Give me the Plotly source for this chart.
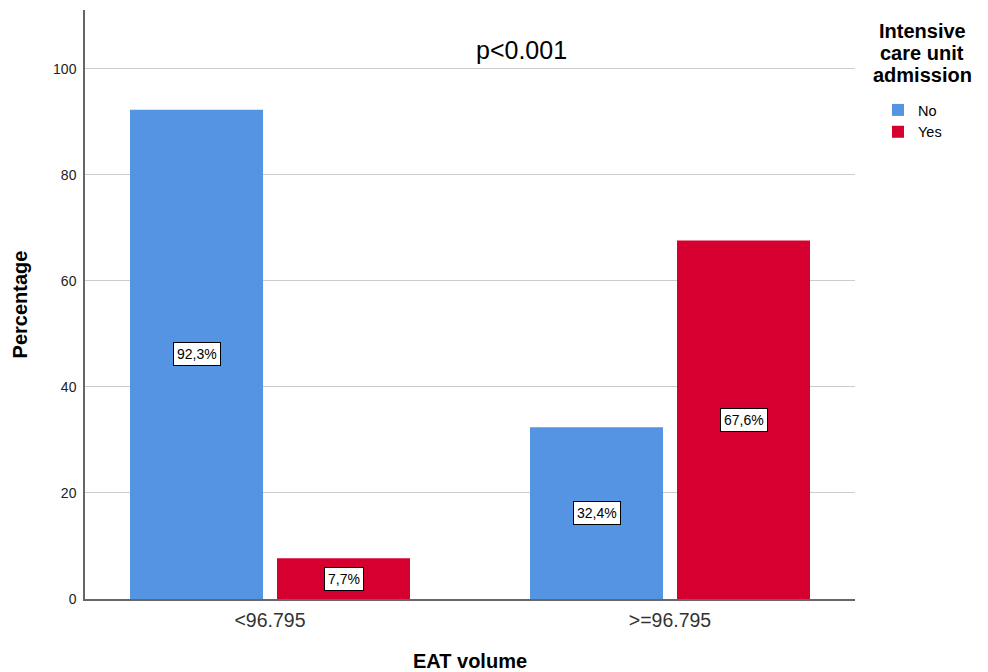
import plotly.graph_objects as go

categories = ["<96.795", ">=96.795"]
series_names = ["No", "Yes"]
no_values = [92.3, 32.4]
yes_values = [7.7, 67.6]
label_no = ["92,3%", "32,4%"]
label_yes = ["7,7%", "67,6%"]
y_ticks = [0, 20, 40, 60, 80, 100]
legend_title_lines = ["Intensive", "care unit", "admission"]
p_text = "p<0.001"

BLUE = "#5594E2"
RED = "#D5002F"
FONT = "Arial, Liberation Sans, sans-serif"

# page body has an 8px margin; offsets below compensate
W, H = 988, 672
ML, MT, MR, MB = 77, 2, 141, 81
PW = W - ML - MR   # 770
PH = H - MT - MB   # 589


def px_x(sx):
    return (sx - 8 - ML) / PW


def px_y(sy):
    return (H - MB - (sy - 8)) / PH


xpos = list(range(len(categories)))
fig = go.Figure()
fig.add_trace(go.Bar(x=xpos, y=no_values, name=series_names[0],
                     marker=dict(color=BLUE, line=dict(width=0))))
fig.add_trace(go.Bar(x=xpos, y=yes_values, name=series_names[1],
                     marker=dict(color=RED, line=dict(width=0))))

bargap = 0.265
bargroupgap = 0.0952
offset = (1 - bargap) / 4
for i, xv in enumerate(xpos):
    for vals, labs, d in ((no_values, label_no, -offset), (yes_values, label_yes, offset)):
        fig.add_annotation(x=xv + d, y=vals[i] / 2, text=labs[i], showarrow=False,
                           font=dict(family=FONT, size=14, color="black"),
                           bgcolor="white", bordercolor="black", borderwidth=1, borderpad=3)

fig.add_annotation(x=px_x(521), y=px_y(50), xref="paper", yref="paper",
                   text=p_text, showarrow=False, xanchor="center", yanchor="middle",
                   font=dict(family=FONT, size=25, color="black"))

for k, line in enumerate(legend_title_lines):
    fig.add_annotation(x=px_x(922), y=px_y(31 + 22 * k), xref="paper", yref="paper",
                       text="<b>" + line + "</b>", showarrow=False,
                       xanchor="center", yanchor="middle",
                       font=dict(family=FONT, size=20, color="black"))

fig.update_layout(
    width=W, height=H,
    margin=dict(l=ML, r=MR, t=MT, b=MB, autoexpand=False),
    plot_bgcolor="white", paper_bgcolor="white",
    barmode="group", bargap=bargap, bargroupgap=bargroupgap,
    font=dict(family=FONT, color="black"),
    showlegend=True,
    legend=dict(
        x=px_x(878), y=px_y(94), xanchor="left", yanchor="top",
        font=dict(size=14.5, family=FONT),
        itemsizing="constant", tracegroupgap=0, itemwidth=30,
        bgcolor="rgba(0,0,0,0)",
    ),
    xaxis=dict(
        range=[-0.4625, 1.4625], tickvals=xpos, ticktext=categories,
        showline=True, linecolor="#666666", linewidth=1.5, ticks="",
        tickfont=dict(size=19.5, color="#333333"),
        ticklabelstandoff=3,
        title=dict(text="<b>EAT volume</b>", font=dict(size=20), standoff=24),
        showgrid=False, zeroline=False,
    ),
    yaxis=dict(
        range=[0, 111.1], tickvals=y_ticks,
        showline=True, linecolor="#666666", linewidth=1.5, ticks="",
        tickfont=dict(size=14, color="#222222"),
        ticklabelstandoff=4,
        showgrid=True, gridcolor="#CCCCCC", gridwidth=1.2,
        title=dict(text="<b>Percentage</b>", font=dict(size=20), standoff=20),
        zeroline=False,
    ),
)

fig.write_html("out.html")
